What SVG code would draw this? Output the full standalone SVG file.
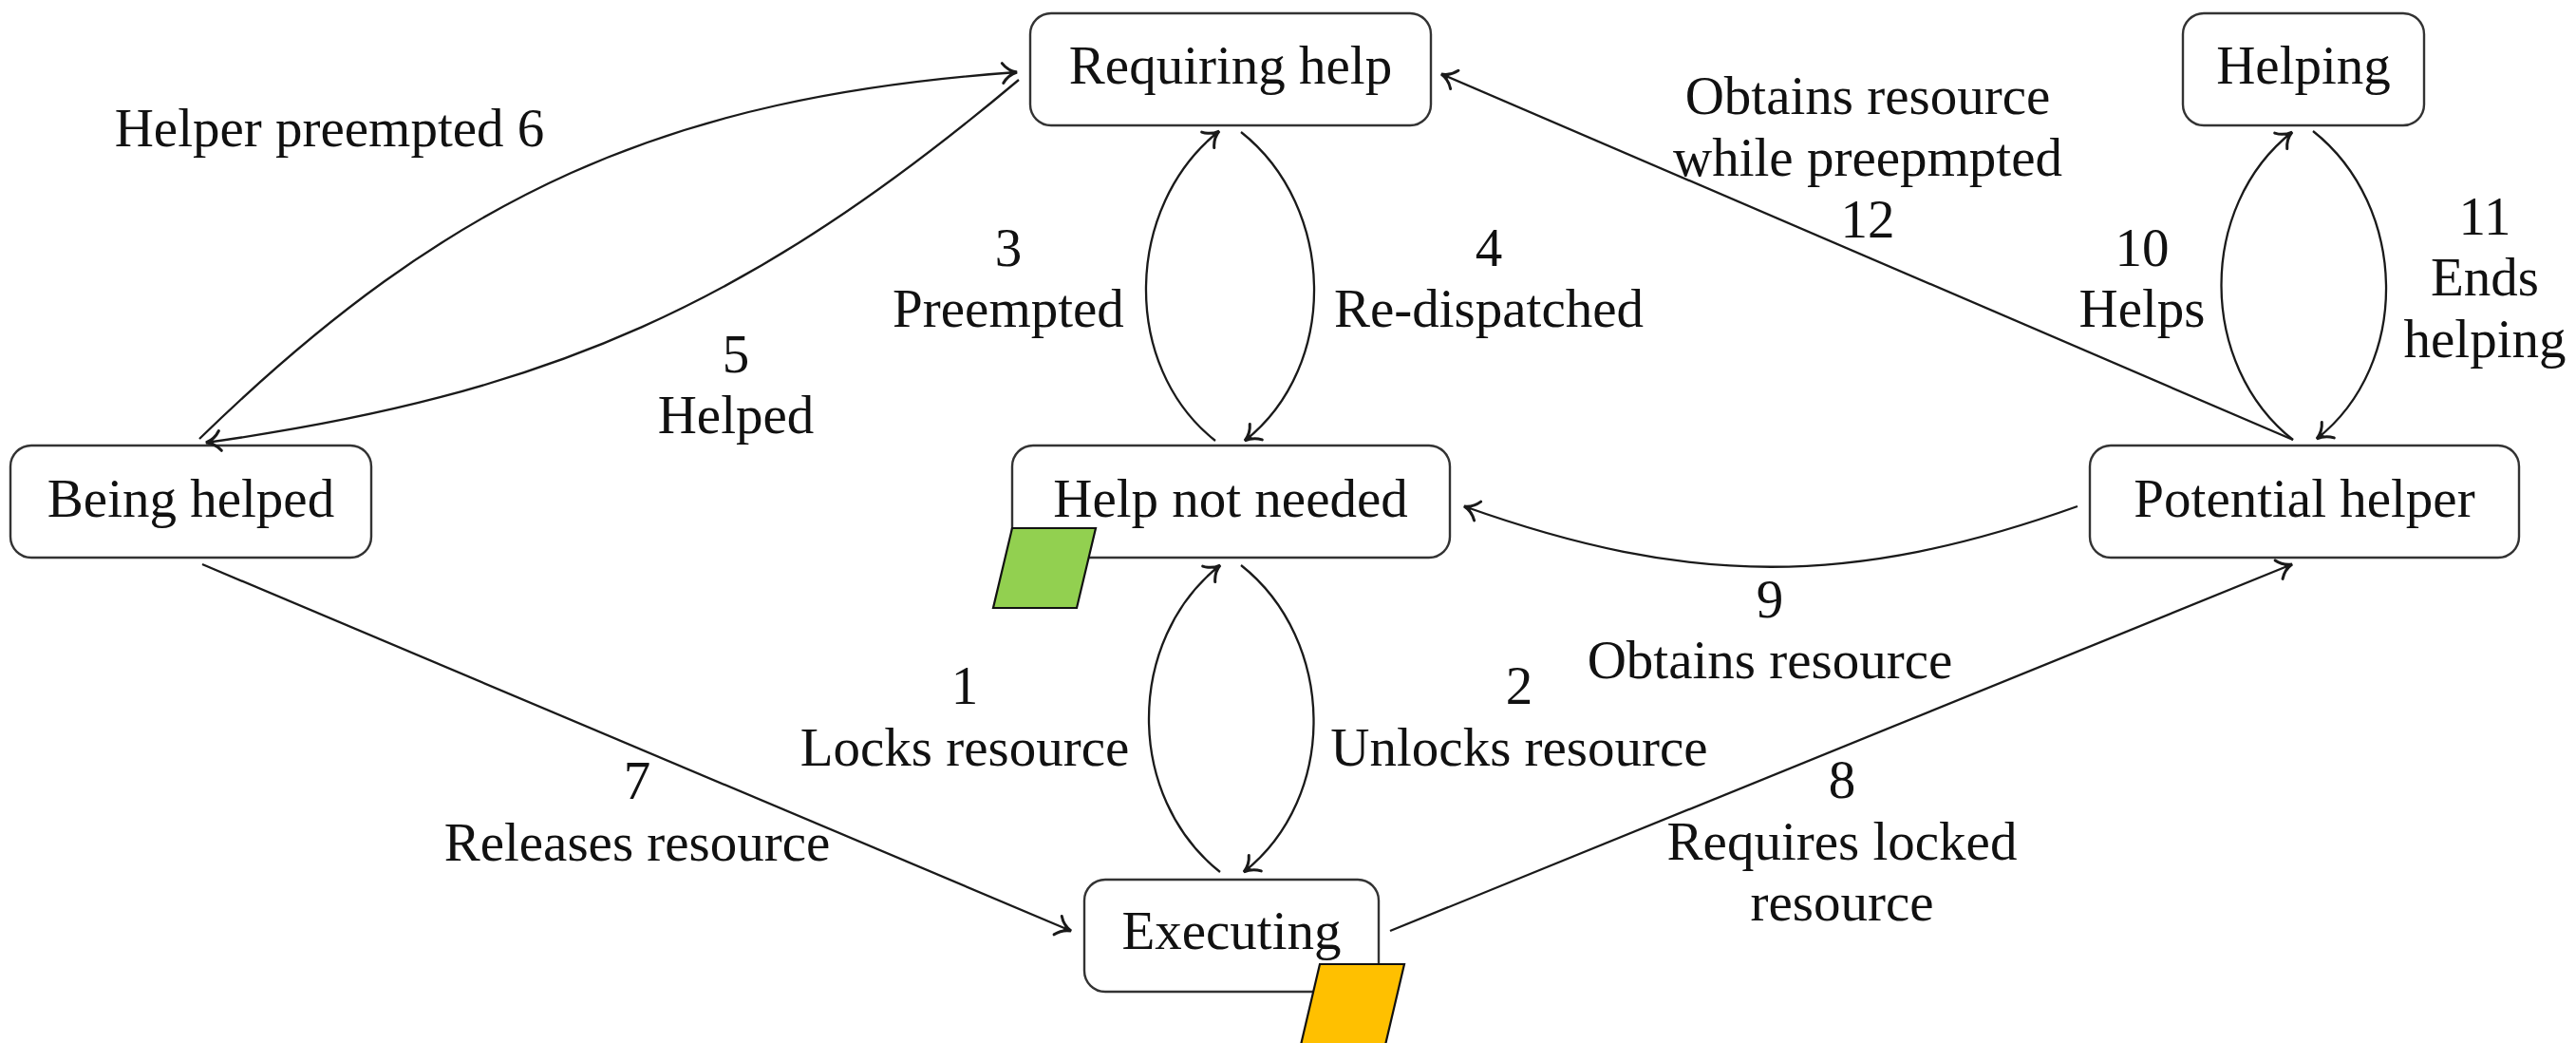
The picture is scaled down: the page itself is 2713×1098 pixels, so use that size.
<svg xmlns="http://www.w3.org/2000/svg" width="2713" height="1098" viewBox="0 0 2713 1098">
  <style>
    .box { fill: #ffffff; stroke: #333333; stroke-width: 2.4; }
    .lbl { font-family: "Liberation Serif", "Times New Roman", serif; font-size: 57px; fill: #111111; text-anchor: middle; }
    .edge { fill: none; stroke: #1a1a1a; stroke-width: 2.3; marker-end: url(#tip); }
    .flag { stroke: #111111; stroke-width: 2.2; stroke-linejoin: miter; }
  </style>
  <defs>
    <!-- curved-barb arrow tip with a solid core -->
    <marker id="tip" viewBox="-20 -15 25 30" refX="0" refY="0" markerWidth="25" markerHeight="30" orient="auto" markerUnits="userSpaceOnUse">
      <path d="M-15,-10.5 C-11,-4.5 -5,-1.2 0,0 C-5,1.2 -11,4.5 -15,10.5" fill="none" stroke="#1a1a1a" stroke-width="3" stroke-linecap="round"/>
      <path d="M0.5,0 L-10,-5 L-7,0 L-10,5 Z" fill="#1a1a1a"/>
    </marker>
  </defs>

  <rect width="2713" height="1098" fill="#ffffff"/>

  <!-- state nodes -->
  <g id="requiring-help">
    <rect class="box" x="1085" y="14" width="422" height="118" rx="22"/>
    <text class="lbl" x="1296" y="88">Requiring help</text>
  </g>
  <g id="helping">
    <rect class="box" x="2299" y="14" width="254" height="118" rx="22"/>
    <text class="lbl" x="2426" y="88">Helping</text>
  </g>
  <g id="being-helped">
    <rect class="box" x="11" y="469" width="380" height="118" rx="22"/>
    <text class="lbl" x="201" y="544">Being helped</text>
  </g>
  <g id="help-not-needed">
    <rect class="box" x="1066" y="469" width="461" height="118" rx="22"/>
    <text class="lbl" x="1296" y="544">Help not needed</text>
    <polygon class="flag" points="1066,556 1154,556 1134,640 1046,640" fill="#92d050"/>
  </g>
  <g id="potential-helper">
    <rect class="box" x="2201" y="469" width="452" height="118" rx="22"/>
    <text class="lbl" x="2427" y="544">Potential helper</text>
  </g>
  <g id="executing">
    <rect class="box" x="1142" y="926" width="310" height="118" rx="22"/>
    <text class="lbl" x="1297" y="999">Executing</text>
    <polygon class="flag" points="1390,1015 1479,1015 1459,1100 1370,1100" fill="#ffc000"/>
  </g>

  <!-- transitions -->
  <g id="connectors">
    <path class="edge" d="M1285,918 C1185,839 1185,674 1285,595"/>
    <path class="edge" d="M1307,595 C1407,674 1410,839 1310,918"/>
    <path class="edge" d="M1280,464 C1180,385 1184,217 1284,138"/>
    <path class="edge" d="M1307,139 C1407,218 1411,385 1311,464"/>
    <path class="edge" d="M1073,84 C792,320 580,415 217,466"/>
    <path class="edge" d="M210,462 C475,204 702,102 1071,76"/>
    <path class="edge" d="M213,594 L1128,980"/>
    <path class="edge" d="M1464,980 L2414,594"/>
    <path class="edge" d="M2188,533 C1950,618 1780,618 1542,533"/>
    <path class="edge" d="M2415,463 C2315,384 2314,218 2414,139"/>
    <path class="edge" d="M2436,138 C2536,217 2540,383 2440,462"/>
    <path class="edge" d="M2415,463 L1518,78"/>
  </g>

  <!-- transition labels -->
  <g id="labels">
    <text class="lbl" x="1016" y="741">1</text>
    <text class="lbl" x="1016" y="806">Locks resource</text>
    <text class="lbl" x="1600" y="741">2</text>
    <text class="lbl" x="1600" y="806">Unlocks resource</text>
    <text class="lbl" x="1062" y="280">3</text>
    <text class="lbl" x="1062" y="344">Preempted</text>
    <text class="lbl" x="1568" y="280">4</text>
    <text class="lbl" x="1568" y="344">Re-dispatched</text>
    <text class="lbl" x="775" y="392">5</text>
    <text class="lbl" x="775" y="456">Helped</text>
    <text class="lbl" x="347" y="154">Helper preempted 6</text>
    <text class="lbl" x="671" y="841">7</text>
    <text class="lbl" x="671" y="906">Releases resource</text>
    <text class="lbl" x="1940" y="840">8</text>
    <text class="lbl" x="1940" y="905">Requires locked</text>
    <text class="lbl" x="1940" y="969">resource</text>
    <text class="lbl" x="1864" y="650">9</text>
    <text class="lbl" x="1864" y="714">Obtains resource</text>
    <text class="lbl" x="2256" y="280">10</text>
    <text class="lbl" x="2256" y="344">Helps</text>
    <text class="lbl" x="2617" y="247">11</text>
    <text class="lbl" x="2617" y="311">Ends</text>
    <text class="lbl" x="2617" y="376">helping</text>
    <text class="lbl" x="1967" y="120">Obtains resource</text>
    <text class="lbl" x="1967" y="185">while preepmpted</text>
    <text class="lbl" x="1967" y="250">12</text>
  </g>
</svg>
